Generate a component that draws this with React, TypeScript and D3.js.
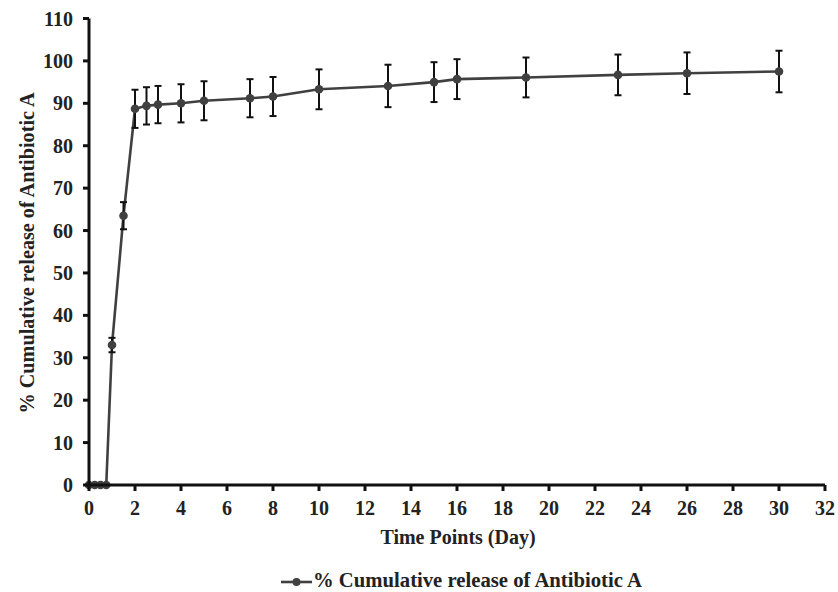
import React from "react";
import * as d3 from "d3";

const days = [0, 0.25, 0.5, 0.75, 1, 1.5, 2, 2.5, 3, 4, 5, 7, 8, 10, 13, 15, 16, 19, 23, 26, 30];
const release = [0, 0, 0, 0, 33.0, 63.5, 88.7, 89.4, 89.7, 90.0, 90.6, 91.2, 91.6, 93.3, 94.1, 95.0, 95.7, 96.1, 96.7, 97.1, 97.5];
const errors = [0, 0, 0, 0, 1.7, 3.2, 4.5, 4.4, 4.4, 4.5, 4.6, 4.5, 4.6, 4.7, 5.0, 4.7, 4.7, 4.7, 4.8, 4.9, 4.9];
const xTicks = d3.range(0, 33, 2);
const yTicks = d3.range(0, 111, 10);

const seriesName = "% Cumulative release of Antibiotic A";
const xTitle = "Time Points (Day)";

export default function App() {
  const W = 838, H = 592;
  const x = d3.scaleLinear().domain([0, 32]).range([89, 825]);
  const y = d3.scaleLinear().domain([0, 110]).range([485, 18.5]);
  const pts = days.map((d, i) => ({ d, v: release[i], e: errors[i] }));
  const line = d3.line<{ d: number; v: number }>().x(p => x(p.d)).y(p => y(p.v));
  const font = "Liberation Serif, DejaVu Serif, serif";
  const lineColor = "#404040";
  const fs = 20;
  return (
    <svg width={W} height={H} style={{ position: "absolute", left: 0, top: 0, background: "#fff" }}>
      <g style={{ fontFamily: font, fontWeight: 700 }} fill="#222">
        <path d={line(pts) || ""} fill="none" stroke={lineColor} strokeWidth={2.6} />
        {pts.filter(p => p.e > 0).map((p, i) => (
          <g key={"e" + i} stroke="#111" strokeWidth={2}>
            <line x1={x(p.d)} x2={x(p.d)} y1={y(p.v - p.e)} y2={y(p.v + p.e)} />
            <line x1={x(p.d) - 3.5} x2={x(p.d) + 3.5} y1={y(p.v + p.e)} y2={y(p.v + p.e)} />
            <line x1={x(p.d) - 3.5} x2={x(p.d) + 3.5} y1={y(p.v - p.e)} y2={y(p.v - p.e)} />
          </g>
        ))}
        {pts.map((p, i) => (
          <circle key={"m" + i} cx={x(p.d)} cy={y(p.v)} r={4.3} fill={lineColor} />
        ))}
        <line x1={x(0)} x2={x(0)} y1={y(0) + 1.5} y2={y(110)} stroke="#111" strokeWidth={3} />
        <line x1={x(0) - 1.5} x2={x(32)} y1={y(0)} y2={y(0)} stroke="#111" strokeWidth={3} />
        {yTicks.map(t => (
          <g key={"yt" + t}>
            <line x1={x(0) - 6} x2={x(0)} y1={y(t)} y2={y(t)} stroke="#111" strokeWidth={3} />
            <text x={73} y={y(t)} dy="0.35em" textAnchor="end" fontSize={fs}>{t}</text>
          </g>
        ))}
        {xTicks.map(t => (
          <g key={"xt" + t}>
            <line x1={x(t)} x2={x(t)} y1={y(0)} y2={y(0) + 6} stroke="#111" strokeWidth={3} />
            <text x={x(t)} y={515} textAnchor="middle" fontSize={fs}>{t}</text>
          </g>
        ))}
        <text x={458} y={544} textAnchor="middle" fontSize={fs}>{xTitle}</text>
        <text transform={`translate(34,253) rotate(-90)`} textAnchor="middle" fontSize={20.2}>{seriesName}</text>
        <line x1={281} x2={312} y1={582} y2={582} stroke={lineColor} strokeWidth={2.6} />
        <circle cx={296.5} cy={582} r={4} fill={lineColor} />
        <text x={313} y={587} fontSize={20.7}>{seriesName}</text>
      </g>
    </svg>
  );
}
